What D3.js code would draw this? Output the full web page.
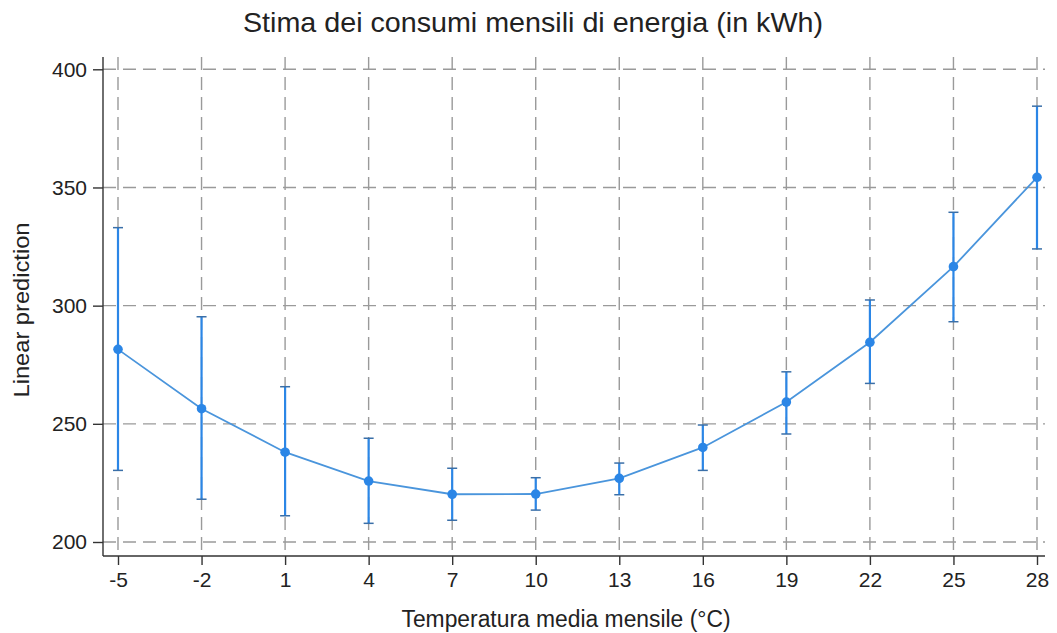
<!DOCTYPE html>
<html>
<head>
<meta charset="utf-8">
<script src="https://cdn.jsdelivr.net/npm/d3@7"></script>
<style>
  body { margin: 0; background: #fff; }
  svg { font-family: "Liberation Sans", Arial, sans-serif; }
</style>
</head>
<body>
<div class="myChart"></div>
<script>
// Data
var temps = [-5, -2, 1, 4, 7, 10, 13, 16, 19, 22, 25, 28];
var prediction = [281.5, 256.4, 238.0, 225.8, 220.2, 220.3, 226.9, 240.0, 259.2, 284.5, 316.5, 354.3];
var ciLow = [230.3, 218.1, 211.1, 207.9, 209.2, 213.5, 220.0, 230.3, 245.7, 267.1, 293.2, 324.0];
var ciHigh = [333.0, 295.3, 265.7, 243.9, 231.2, 227.2, 233.4, 249.5, 272.0, 302.4, 339.5, 384.4];
var yTicks = [200, 250, 300, 350, 400];

function run() {
    var width = 1057;
    var height = 633;
    var blue = "#2b86e6";

    // Plot area
    var left = 103, right = 1045, top = 57, bottom = 556;

    var xScale = d3.scaleLinear()
        .domain([-5, 28])
        .range([118, 1037]);
    var yScale = d3.scaleLinear()
        .domain([200, 400])
        .range([542, 69.3]);

    var svg = d3.select(".myChart").append("svg")
        .attr("width", width)
        .attr("height", height);

    // Grid
    svg.append("g").selectAll("line")
        .data(yTicks)
        .enter().append("line")
        .attr("x1", left).attr("x2", right)
        .attr("y1", function(d) { return yScale(d); })
        .attr("y2", function(d) { return yScale(d); })
        .attr("stroke", "#9a9a9a")
        .attr("stroke-width", 1.4)
        .attr("stroke-dasharray", "13,7");
    svg.append("g").selectAll("line")
        .data(temps)
        .enter().append("line")
        .attr("x1", function(d) { return xScale(d); })
        .attr("x2", function(d) { return xScale(d); })
        .attr("y1", top).attr("y2", bottom)
        .attr("stroke", "#9a9a9a")
        .attr("stroke-width", 1.4)
        .attr("stroke-dasharray", "13,7");

    // Axes
    var fmt = function(d) { return String(d); };
    var xAxis = d3.axisBottom(xScale).tickValues(temps).tickFormat(fmt)
        .tickSize(9).tickPadding(7).tickSizeOuter(0);
    var yAxis = d3.axisLeft(yScale).tickValues(yTicks).tickFormat(fmt)
        .tickSize(10).tickPadding(6).tickSizeOuter(0);

    var gx = svg.append("g")
        .attr("transform", "translate(0," + bottom + ")")
        .call(xAxis);
    gx.select(".domain").attr("d", "M" + left + ",0H" + right);
    var gy = svg.append("g")
        .attr("transform", "translate(" + left + ",0)")
        .call(yAxis);
    gy.select(".domain").attr("d", "M0," + top + "V" + bottom);

    svg.selectAll(".tick text")
        .attr("font-size", 21)
        .attr("fill", "#222");
    svg.selectAll(".domain, .tick line")
        .attr("stroke", "#333")
        .attr("stroke-width", 1.4);

    // Titles
    svg.append("text")
        .attr("x", 533).attr("y", 32)
        .attr("text-anchor", "middle")
        .attr("font-size", 28)
        .attr("textLength", 580)
        .attr("lengthAdjust", "spacingAndGlyphs")
        .attr("fill", "#222")
        .text("Stima dei consumi mensili di energia (in kWh)");
    svg.append("text")
        .attr("x", 566).attr("y", 627)
        .attr("text-anchor", "middle")
        .attr("font-size", 23)
        .attr("textLength", 329)
        .attr("lengthAdjust", "spacingAndGlyphs")
        .attr("fill", "#222")
        .text("Temperatura media mensile (°C)");
    svg.append("text")
        .attr("transform", "translate(29,310) rotate(-90)")
        .attr("text-anchor", "middle")
        .attr("font-size", 22)
        .attr("textLength", 175)
        .attr("lengthAdjust", "spacingAndGlyphs")
        .attr("fill", "#222")
        .text("Linear prediction");

    var idx = d3.range(temps.length);

    // Error bars
    svg.append("g").selectAll("line")
        .data(idx)
        .enter().append("line")
        .attr("x1", function(i) { return xScale(temps[i]); })
        .attr("x2", function(i) { return xScale(temps[i]); })
        .attr("y1", function(i) { return yScale(ciLow[i]); })
        .attr("y2", function(i) { return yScale(ciHigh[i]); })
        .attr("stroke", blue)
        .attr("stroke-width", 2.2);
    var caps = svg.append("g");
    [ciLow, ciHigh].forEach(function(arr) {
        caps.selectAll(null)
            .data(idx)
            .enter().append("line")
            .attr("x1", function(i) { return xScale(temps[i]) - 5; })
            .attr("x2", function(i) { return xScale(temps[i]) + 5; })
            .attr("y1", function(i) { return yScale(arr[i]); })
            .attr("y2", function(i) { return yScale(arr[i]); })
            .attr("stroke", "#3a6fa8")
            .attr("stroke-width", 1.5);
    });

    // Line
    var line = d3.line()
        .x(function(i) { return xScale(temps[i]); })
        .y(function(i) { return yScale(prediction[i]); });
    svg.append("path")
        .datum(idx)
        .attr("d", line)
        .attr("fill", "none")
        .attr("stroke", "#4a95dc")
        .attr("stroke-width", 1.8);

    // Points
    svg.append("g").selectAll("circle")
        .data(idx)
        .enter().append("circle")
        .attr("cx", function(i) { return xScale(temps[i]); })
        .attr("cy", function(i) { return yScale(prediction[i]); })
        .attr("r", 4.8)
        .attr("fill", blue);
}
run();
</script>
</body>
</html>
